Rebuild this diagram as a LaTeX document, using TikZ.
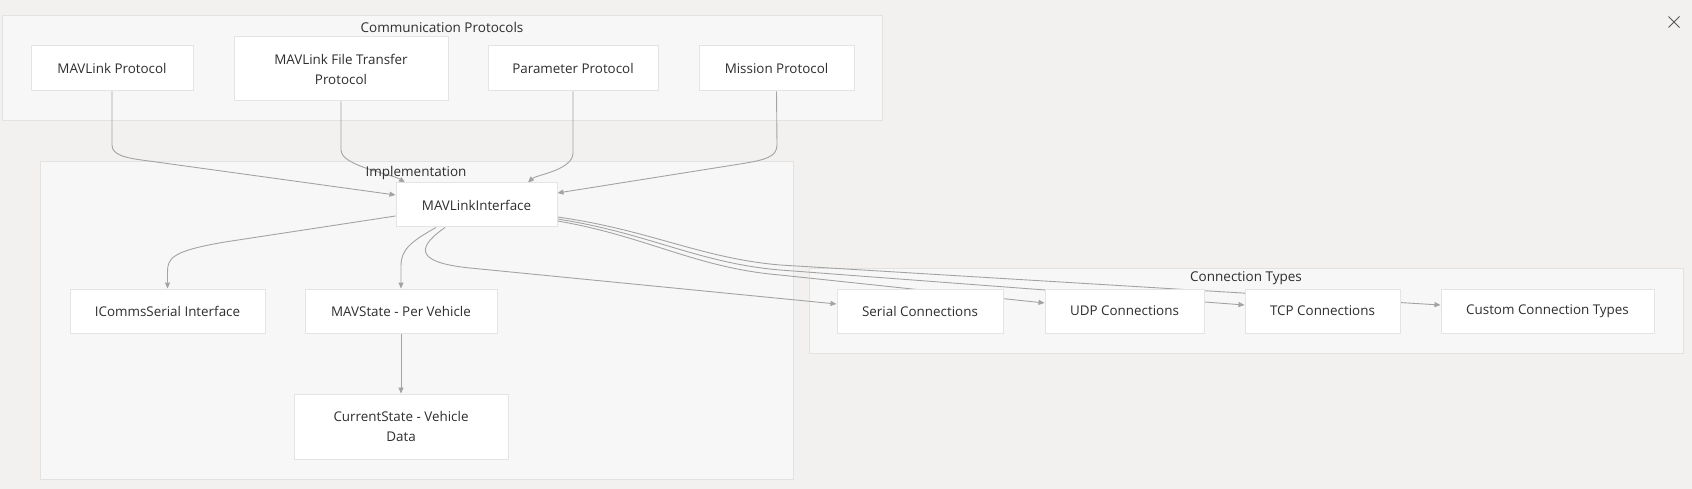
\documentclass[tikz,border=0pt]{standalone}
\usepackage{fontspec}
\setmainfont{Open Sans}
\usetikzlibrary{arrows.meta}
\pgfdeclarelayer{bg}
\pgfdeclarelayer{edges}
\pgfsetlayers{bg,edges,main}
\definecolor{pagebg}{HTML}{F2F1F0}
\definecolor{clfill}{HTML}{F7F7F7}
\definecolor{clline}{HTML}{E2E2E2}
\definecolor{boxline}{HTML}{E4E4E4}
\definecolor{edgecol}{HTML}{A3A3A3}
\definecolor{txt}{HTML}{2E2E2E}
\begin{document}
\begin{tikzpicture}[x=1pt,y=-1pt,
  box/.style={draw=boxline, line width=1pt, fill=white, text=txt, inner sep=0pt,
    font=\fontsize{13.4}{20}\selectfont, align=center},
  cluster/.style={draw=clline, line width=1pt, fill=clfill},
  cltitle/.style={text=txt, font=\fontsize{13.5}{16}\selectfont, inner sep=0pt},
  edge/.style={draw=edgecol, line width=0.9pt, -{Triangle[length=6pt,width=5pt]}},
]
\useasboundingbox (0,0) rectangle (1692,489);

% close icon
\draw[txt!80, line width=0.8pt] (1668.5,16.5) coordinate (xa) -- (1679.5,27.5) coordinate (xb);
\draw[txt!80, line width=0.8pt] (1679.5,16.5) coordinate (xc) -- (1668.5,27.5) coordinate (xd);

% background and clusters
\begin{pgfonlayer}{bg}
\fill[pagebg] (0,0) rectangle (1692,489);
\draw[cluster] (2,16) rectangle (882,121);
\draw[cluster] (40,162) rectangle (793,479);
\draw[cluster] (809,268) rectangle (1683,353);
\end{pgfonlayer}
\node[cltitle] (tcomm) at (442,27) {Communication Protocols};
\node[cltitle] (timpl) at (416,173) {Implementation};
\node[cltitle] (tconn) at (1246,278) {Connection Types};

% nodes
\node[box, minimum width=162pt, minimum height=45pt] (mp)  at (112,68.5) {MAVLink Protocol};
\node[box, minimum width=214pt, minimum height=64pt] (ftp) at (341,69) {MAVLink File Transfer\\Protocol};
\node[box, minimum width=170pt, minimum height=45pt] (pp)  at (573,68.5) {Parameter Protocol};
\node[box, minimum width=155pt, minimum height=45pt] (msn) at (776.5,68.5) {Mission Protocol};
\node[box, minimum width=161pt, minimum height=44pt] (mli) at (476.5,205) {MAVLinkInterface};
\node[box, minimum width=195pt, minimum height=44pt] (ics) at (167.5,311) {ICommsSerial Interface};
\node[box, minimum width=192pt, minimum height=44pt] (mst) at (401,311) {MAVState - Per Vehicle};
\node[box, minimum width=214pt, minimum height=65pt] (cst) at (401,426.5) {CurrentState - Vehicle\\Data};
\node[box, minimum width=166pt, minimum height=44pt] (ser) at (920,311) {Serial Connections};
\node[box, minimum width=159pt, minimum height=44pt] (udp) at (1124.5,311) {UDP Connections};
\node[box, minimum width=155pt, minimum height=44pt] (tcp) at (1322.5,311) {TCP Connections};
\node[box, minimum width=213pt, minimum height=44pt] (cus) at (1547.5,311) {Custom Connection Types};

% edges
\begin{pgfonlayer}{edges}
\draw[edge] (mp.south) -- (112,145) .. controls (112,155) and (125,158) .. (149,161) -- ([yshift=10pt]mli.west);
\draw[edge] (ftp.south) -- (341,150) .. controls (341,166) and (392,174) .. ([xshift=-71.5pt]mli.north);
\draw[edge] (pp.south) -- (573,153) .. controls (573,170) and (536,175) .. ([xshift=51.5pt]mli.north);
\draw[edge] (msn.south) -- (777,145) .. controls (777,157) and (765,160) .. (740,164) -- ([yshift=12pt]mli.east);
\draw[edge] ([yshift=-11pt]mli.west) -- (225,242) .. controls (172,251) and (167.5,258) .. (167.5,272) -- (ics.north);
\draw[edge] ([xshift=-40.5pt]mli.south) .. controls (410,242) and (401,250) .. (401,266) -- (mst.north);
\draw[edge] ([xshift=-31.5pt]mli.south) .. controls (420,245) and (410,262) .. (470,268) -- ([yshift=7pt]ser.west);
\draw[edge] (mst.south) -- (cst.north);
\draw[edge] ([yshift=-12pt]mli.east) .. controls (650,230) and (700,258) .. (780,265) -- ([yshift=6pt]cus.west);
\draw[edge] ([yshift=-14pt]mli.east) .. controls (648,233) and (698,263) .. (780,270) -- ([yshift=6pt]tcp.west);
\draw[edge] ([yshift=-16pt]mli.east) .. controls (646,236) and (696,268) .. (780,275) -- ([yshift=8pt]udp.west);
\end{pgfonlayer}
\end{tikzpicture}
\end{document}
